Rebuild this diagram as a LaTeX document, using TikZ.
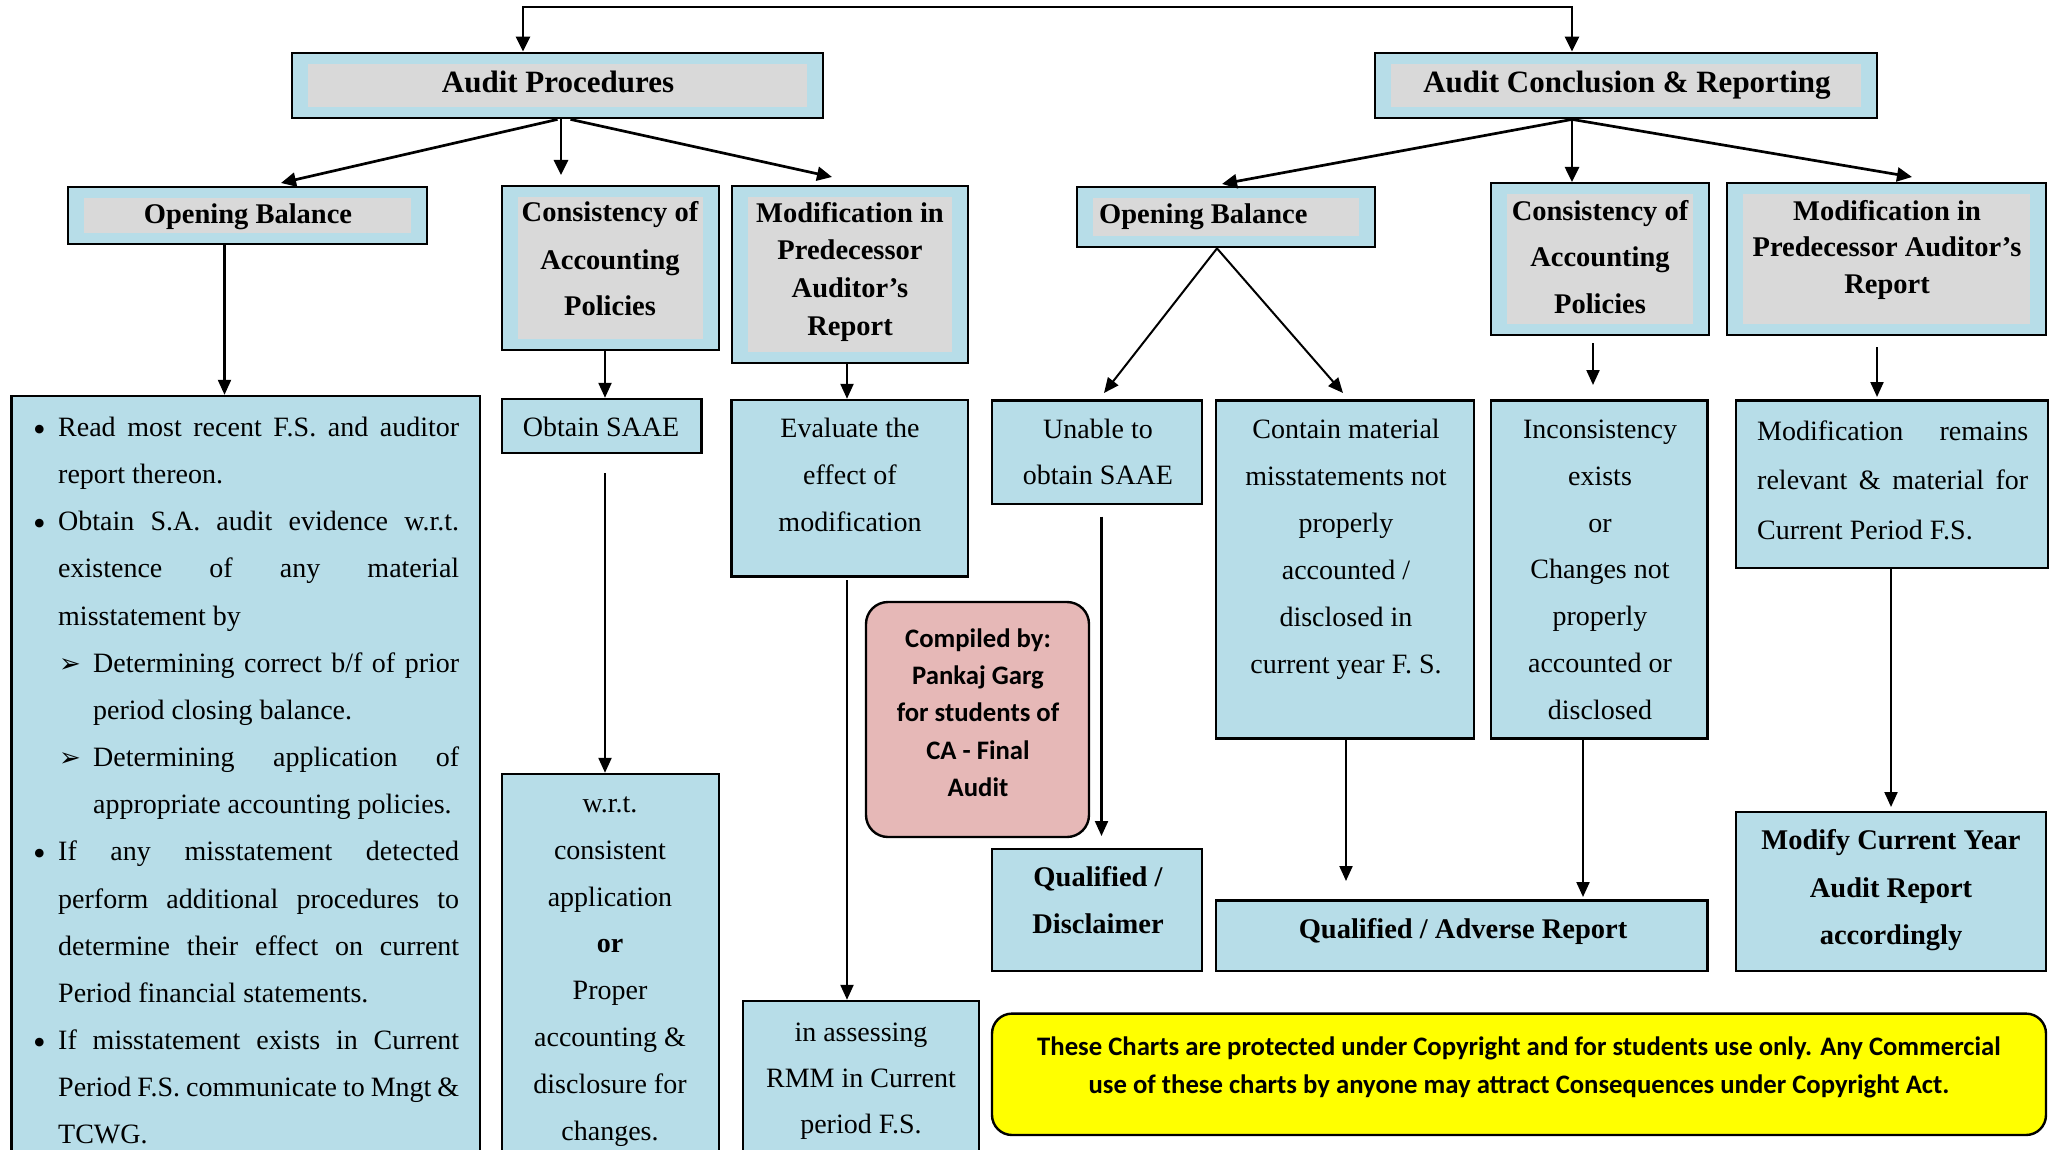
\documentclass[tikz,border=0pt]{standalone}
\usepackage{fontspec}
\setmainfont{Liberation Serif}
\newfontfamily\calfont{Carlito}
\newfontfamily\symfont{DejaVu Sans}
\usetikzlibrary{arrows.meta,calc}

\definecolor{boxblue}{HTML}{B7DDE8}
\definecolor{innergrey}{HTML}{D9D9D9}
\definecolor{notepink}{HTML}{E6B8B7}
\definecolor{noteyellow}{HTML}{FFFF00}

% a box placed by its corners: name, style, x1, y1, x2, y2
\newcommand\cornerbox[6]{%
  \node[#2, minimum width={#5-#3}, minimum height={#6-#4}] (#1)
    at ({(#3+#5)/2},{(#4+#6)/2}) {};}

% bullet and sub-bullet items for the opening balance list
\newcommand\obmainitem{\noindent\hangindent=20pt\hangafter=1%
  \makebox[20pt][l]{\hspace*{-5pt}\raisebox{-5pt}{\fontsize{36}{36}\selectfont\textbullet}}}
\newcommand\obsubitem{\noindent\hangindent=55pt\hangafter=1%
  \hspace*{21pt}\makebox[34pt][l]{\symfont\fontsize{26}{26}\selectfont ➢}}

\tikzset{
  x=1pt, y=-1pt,
  headbox/.style={draw=black, line width=2.8pt, fill=boxblue, inner sep=0pt,
    path picture={\fill[innergrey]
      ($(path picture bounding box.south west)+(16pt,11pt)$) rectangle
      ($(path picture bounding box.north east)+(-16pt,-11pt)$);}},
  plainbox/.style={draw=black, line width=2.4pt, fill=boxblue, inner sep=0pt},
  pinkbox/.style={draw=black, line width=2.4pt, fill=notepink, inner sep=0pt,
    rounded corners=22pt},
  yellowbox/.style={draw=black, line width=2.4pt, fill=noteyellow, inner sep=0pt,
    rounded corners=20pt},
  % multi-line texts are placed by the baseline of their last line
  txt/.style={inner sep=0pt, align=center, anchor=base,
    font={\fontsize{28}{#1}\selectfont}},
  txt/.default=47,
  btxt/.style={inner sep=0pt, align=center, anchor=base,
    font={\fontsize{28.5}{#1}\selectfont\bfseries}},
  btxt/.default=47,
  ctxt/.style={inner sep=0pt, align=center, anchor=base,
    font={\calfont\fontsize{26.7}{#1}\selectfont\bfseries}},
  arr/.style={line width=2.2pt, -{Triangle[length=15pt,width=13pt]}},
  arrmain/.style={line width=2.7pt, -{Triangle[length=15pt,width=14pt]}},
  arrthin/.style={line width=2pt, -{Triangle[length=15pt,width=13pt]}},
}

\begin{document}
\begin{tikzpicture}
\clip (0,0) rectangle (2055,1150);
\fill[white] (0,0) rectangle (2055,1150);

% ---------- heading boxes ----------
\cornerbox{ap}{headbox}{292}{53}{823}{118}
\cornerbox{ac}{headbox}{1375}{53}{1877}{118}
\cornerbox{ob1}{headbox}{68}{187}{427}{244}
\cornerbox{cp1}{headbox}{502}{186}{719}{350}
\cornerbox{mp1}{headbox}{732}{186}{968}{363}
\cornerbox{ob2}{headbox}{1077}{187}{1375}{247}
\cornerbox{cp2}{headbox}{1491}{183}{1709}{335}
\cornerbox{mp2}{headbox}{1727}{183}{2046}{335}

% ---------- detail boxes ----------
\cornerbox{bl}{plainbox}{11.5}{396}{480}{1175}
\cornerbox{saae}{plainbox}{502}{399}{701.5}{453}
\cornerbox{wrt}{plainbox}{502}{774}{719}{1175}
\cornerbox{ev}{plainbox}{731.5}{400}{968}{576.5}
\cornerbox{ia}{plainbox}{743}{1001}{979}{1175}
\cornerbox{un}{plainbox}{992}{400.6}{1202}{504}
\cornerbox{qd}{plainbox}{992}{849}{1202}{971}
\cornerbox{cm}{plainbox}{1216}{400.6}{1474}{738.5}
\cornerbox{inc}{plainbox}{1491}{400.6}{1707.6}{738.5}
\cornerbox{qa}{plainbox}{1216}{900.6}{1707.6}{971}
\cornerbox{mr}{plainbox}{1736}{400.6}{2048}{568}
\cornerbox{mc}{plainbox}{1736}{812}{2046}{971}
\cornerbox{cb}{pinkbox}{866}{602}{1089}{837}
\cornerbox{cr}{yellowbox}{992}{1013.6}{2046}{1135}

% ---------- heading texts ----------
\node[inner sep=0pt, anchor=base, font={\fontsize{31}{36}\selectfont\bfseries}]
  (ap-t) at (558,93) {Audit Procedures};
\node[inner sep=0pt, anchor=base, font={\fontsize{31}{36}\selectfont\bfseries}]
  (ac-t) at (1627,93) {Audit Conclusion \& Reporting};
\node[btxt] (ob1-t) at (248,224) {Opening Balance};
\node[btxt=47] (cp1-t) at (610,316) {Consistency of\\Accounting\\Policies};
\node[btxt=37.8] (mp1-t) at (850,335.4) {Modification in\\Predecessor\\Auditor’s\\Report};
\node[btxt, anchor=base west] (ob2-t) at (1099,224) {Opening Balance};
\node[btxt=46.7] (cp2-t) at (1600,313.4) {Consistency of\\Accounting\\Policies};
\node[btxt=36.7] (mp2-t) at (1887,293.4) {Modification in\\Predecessor Auditor’s\\Report};

% ---------- detail texts ----------
\node[inner sep=0pt, anchor=base west, text width=421, align=justify,
  font={\fontsize{28}{47.15}\selectfont}] (bl-t) at (38,436.5) {%
  \obmainitem Read most recent F.S. and auditor\linebreak report thereon.\par
  \obmainitem Obtain S.A. audit evidence w.r.t.\linebreak existence of any material\linebreak misstatement by\par
  \obsubitem Determining correct b/f of prior\linebreak period closing balance.\par
  \obsubitem Determining application of\linebreak appropriate accounting policies.\par
  \obmainitem If any misstatement detected\linebreak perform additional procedures to\linebreak determine their effect on current\linebreak Period financial statements.\par
  \obmainitem If misstatement exists in Current\linebreak Period F.S. communicate to Mngt \&\linebreak TCWG.\par};
\node[txt] (saae-t) at (601,436.5) {Obtain SAAE};
\node[txt=47] (ev-t) at (850,531) {Evaluate the\\effect of\\modification};
\node[txt=46.8] (wrt-t) at (610,1140.1) {w.r.t.\\consistent\\application\\\textbf{or}\\Proper\\accounting \&\\disclosure for\\changes.};
\node[txt=46] (ia-t) at (861,1133.5) {in assessing\\RMM in Current\\period F.S.};
\node[txt=46] (un-t) at (1098,484.5) {Unable to\\obtain SAAE};
\node[btxt=47] (qd-t) at (1098,933.5) {Qualified /\\Disclaimer};
\node[txt=47] (cm-t) at (1346,673.5) {Contain material\\misstatements not\\properly\\accounted /\\disclosed in\\current year F. S.};
\node[txt=46.8] (inc-t) at (1600,719.3) {Inconsistency\\exists\\or\\Changes not\\properly\\accounted or\\disclosed};
\node[btxt] (qa-t) at (1463,938.5) {Qualified / Adverse Report};
\node[inner sep=0pt, anchor=base west, text width=271, align=justify,
  font={\fontsize{28}{49.7}\selectfont}] (mr-t) at (1757,440)
  {Modification remains\linebreak relevant \& material for\linebreak Current Period F.S.\par};
\node[btxt=47.5] (mc-t) at (1891,944.5) {Modify Current Year\\Audit Report\\accordingly};
\node[ctxt=37.2] (cb-t) at (978,796.3) {Compiled by:\\Pankaj Garg\\for students of\\CA - Final\\Audit};
\node[ctxt=38] (cr-t) at (1519,1093) {These Charts are protected under Copyright and for students use only. Any Commercial\\use of these charts by anyone may attract Consequences under Copyright Act.};

% ---------- connectors ----------
\coordinate (t1) at (523,7);
\coordinate (t2) at (1572,7);
\draw[line width=2.7pt, {Triangle[length=15pt,width=14pt]}-{Triangle[length=15pt,width=14pt]}]
  (t1 |- ap.north) -- (t1) -- (t2) -- (t2 |- ac.north);

% from Audit Procedures
\coordinate (e1) at (281,183);
\coordinate (e2) at (561,175);
\coordinate (e3) at (832,177);
\draw[arrmain] (ap.south) -- (e1);
\draw[arrmain] (e2 |- ap.south) -- (e2);
\draw[arrmain] ($(ap.south)+(13,0)$) -- (e3);

% from Audit Conclusion & Reporting
\coordinate (e4) at (1222,184);
\coordinate (e5) at (1572,182);
\coordinate (e6) at (1912,177);
\draw[arrmain] (t2 |- ac.south) -- (e4);
\draw[arrmain] (t2 |- ac.south) -- (e5);
\draw[arrmain] (t2 |- ac.south) -- (e6);

% audit procedures column
\coordinate (e7) at (224.5,396);
\draw[arr] (e7 |- ob1.south) -- (e7 |- bl.north);
\coordinate (e8) at (605,398);
\draw[arr] (e8 |- cp1.south) -- (e8 |- saae.north);
\coordinate (e9) at (847,400);
\draw[arr] (e9 |- mp1.south) -- (e9 |- ev.north);
\coordinate (s10) at (605,473);
\draw[arr] (s10) -- (s10 |- wrt.north);
\coordinate (s11) at (847,580);
\draw[arr] (s11) -- (s11 |- ia.north);

% conclusion column
\coordinate (s12) at (1217,247);
\coordinate (e13) at (1104,393);
\coordinate (e14) at (1343,393);
\draw[arrthin] (s12 |- ob2.south) -- (e13);
\draw[arrthin] (s12 |- ob2.south) -- (e14);
\coordinate (s15) at (1593,343);
\coordinate (e15) at (1593,385);
\draw[arr] (s15) -- (e15);
\coordinate (s16) at (1877,347);
\coordinate (e16) at (1877,397);
\draw[arr] (s16) -- (e16);
\coordinate (s17) at (1101.5,516.5);
\coordinate (e17) at (1101.5,836);
\draw[arr] (s17) -- (e17);
\coordinate (e18) at (1346,881);
\draw[arr] (e18 |- cm.south) -- (e18);
\coordinate (e19) at (1583,897);
\draw[arr] (e19 |- inc.south) -- (e19);
\coordinate (e20) at (1891,807);
\draw[arr] (e20 |- mr.south) -- (e20);
\end{tikzpicture}
\end{document}
